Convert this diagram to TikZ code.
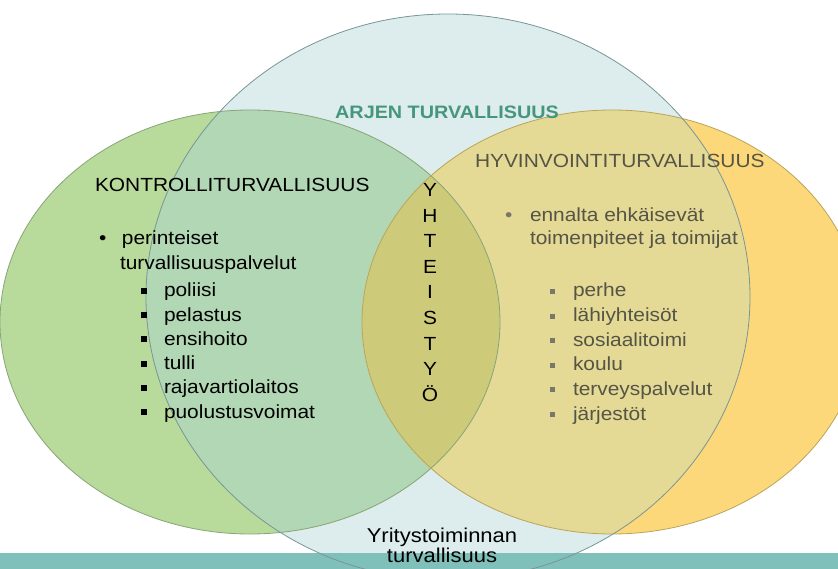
\documentclass[tikz,border=0pt]{standalone}
\usepackage{fontspec}
\setmainfont[FakeStretch=1.1]{Liberation Sans}
\definecolor{bluef}{RGB}{221,236,236}
\definecolor{greenf}{RGB}{184,218,154}
\definecolor{gbf}{RGB}{178,215,180}
\definecolor{yellowf}{RGB}{252,216,122}
\definecolor{ybf}{RGB}{229,217,150}
\definecolor{triplef}{RGB}{205,203,122}
\definecolor{bluel}{RGB}{120,150,150}
\definecolor{greenl}{RGB}{135,165,120}
\definecolor{yellowl}{RGB}{185,165,90}
\definecolor{bandc}{RGB}{128,192,186}
\definecolor{arjenc}{RGB}{70,150,125}
\definecolor{rightc}{RGB}{85,85,70}
\definecolor{rbul}{RGB}{120,120,105}
\tikzset{
  blueE/.style={insert path={(448,297) ellipse [x radius=302, y radius=283]}},
  greenE/.style={insert path={(250,322) ellipse [x radius=250, y radius=212]}},
  yellowE/.style={insert path={(612,322) ellipse [x radius=250, y radius=212]}},
  txt/.style={inner sep=0pt, outer sep=0pt, font=\fontsize{19}{21}\selectfont},
  ltxt/.style={txt, anchor=base west},
  rtxt/.style={txt, anchor=base west, text=rightc},
  vl/.style={txt, anchor=base},
}
\newcommand\lsq{\makebox[23pt][l]{\raisebox{3pt}{\rule{5.5pt}{6pt}}}}
\newcommand\rsq{\makebox[23pt][l]{\textcolor{rbul}{\raisebox{3pt}{\rule{5pt}{5pt}}}}}
\begin{document}
\begin{tikzpicture}[x=1pt,y=-1pt]
\useasboundingbox (0,0) rectangle (838,569);
% fills
\fill[bluef, blueE];
\fill[greenf, greenE];
\begin{scope}\clip[blueE]; \fill[gbf, greenE];\end{scope}
\fill[yellowf, yellowE];
\begin{scope}\clip[blueE]; \fill[ybf, yellowE];\end{scope}
\begin{scope}\clip[greenE]; \fill[triplef, yellowE];\end{scope}
% band
\fill[bandc] (0,553) rectangle (838,569);
% outlines
\draw[greenl, line width=0.8pt, greenE];
\draw[yellowl, line width=0.8pt, yellowE];
\draw[bluel, line width=0.8pt, blueE];
% texts
\node[txt, font=\bfseries\fontsize{18}{20}\selectfont, text=arjenc, anchor=base] (arjen) at (447,119) {ARJEN TURVALLISUUS};
\node[ltxt] (kontrolli) at (95,192) {KONTROLLITURVALLISUUS};
\node[ltxt] (bl1) at (99,245) {\makebox[23pt][l]{\textbullet}perinteiset};
\node[ltxt] (bl2) at (120,270) {turvallisuuspalvelut};
\node[ltxt] (l1) at (141,297) {\lsq poliisi};
\node[ltxt] (l2) at (141,321.2) {\lsq pelastus};
\node[ltxt] (l3) at (141,345.4) {\lsq ensihoito};
\node[ltxt] (l4) at (141,369.6) {\lsq tulli};
\node[ltxt] (l5) at (141,393.8) {\lsq rajavartiolaitos};
\node[ltxt] (l6) at (141,418) {\lsq puolustusvoimat};
% vertical word
\node[vl] (v1) at (430,197) {Y};
\node[vl] (v2) at (430,222.5) {H};
\node[vl] (v3) at (430,248) {T};
\node[vl] (v4) at (430,273.5) {E};
\node[vl] (v5) at (430,299) {I};
\node[vl] (v6) at (430,324.5) {S};
\node[vl] (v7) at (430,350) {T};
\node[vl] (v8) at (430,375.5) {Y};
\node[vl] (v9) at (430,401) {Ö};
% right side
\node[rtxt] (hyv) at (475,168) {HYVINVOINTITURVALLISUUS};
\node[rtxt] (br1) at (505,222) {\makebox[25pt][l]{\textcolor{rbul}{\textbullet}}ennalta ehkäisevät};
\node[rtxt] (br2) at (530,245) {toimenpiteet ja toimijat};
\node[rtxt] (r1) at (550,297) {\rsq perhe};
\node[rtxt] (r2) at (550,321.6) {\rsq lähiyhteisöt};
\node[rtxt] (r3) at (550,346.2) {\rsq sosiaalitoimi};
\node[rtxt] (r4) at (550,370.8) {\rsq koulu};
\node[rtxt] (r5) at (550,395.4) {\rsq terveyspalvelut};
\node[rtxt] (r6) at (550,420) {\rsq järjestöt};
% bottom
\node[vl, font=\fontsize{20}{22}\selectfont] (yr1) at (442,542) {Yritystoiminnan};
\node[vl, font=\fontsize{20}{22}\selectfont] (yr2) at (442,562) {turvallisuus};
\end{tikzpicture}
\end{document}
